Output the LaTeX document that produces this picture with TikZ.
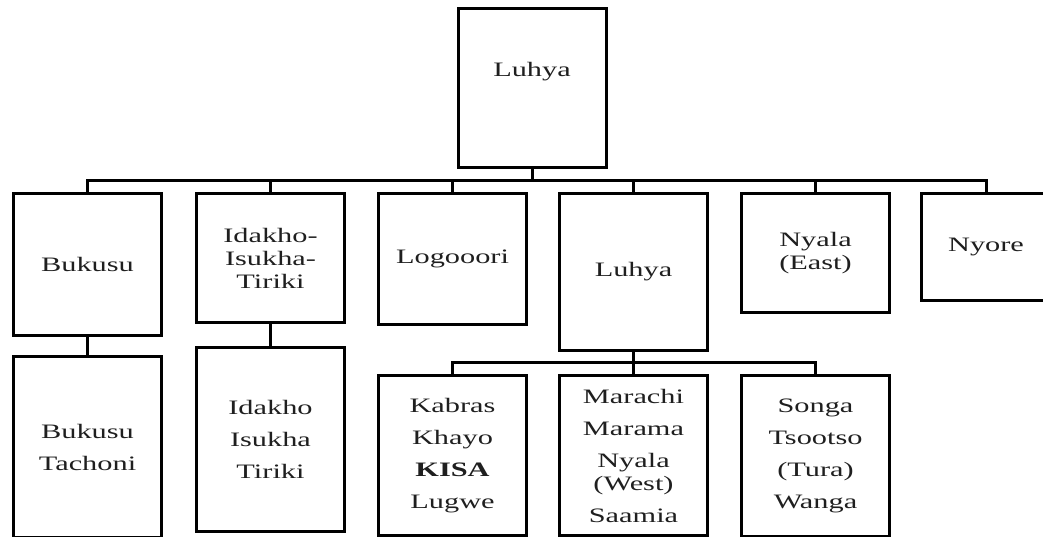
\documentclass[tikz,border=0pt]{standalone}
\usepackage{fontspec}
\setmainfont[FakeStretch=1.48]{Liberation Serif}
\begin{document}
\begin{tikzpicture}[x=1bp,y=-1bp,
  box/.style={draw=black,line width=3bp,fill=white,inner sep=0pt,minimum width=148bp,
    align=center,text=black!88,font=\fontsize{20.5bp}{23bp}\selectfont},
  link/.style={draw=black,line width=3bp,line join=miter}]
\useasboundingbox (0,0) rectangle (1043,537);
\fill[white] (0,0) rectangle (1043,537);
\clip (0,0) rectangle (1043,537);
% top
\node[box,minimum height=159bp] (top) at (532,88) {};
\node[text=black!88,font=\fontsize{20.5bp}{23bp}\selectfont] (toptext) at (532,72) {Luhya};
% row 2
\node[box,minimum height=142bp] (bukusu) at (87.5,264.5) {Bukusu};
\node[box,minimum height=129bp] (idakho) at (270.5,258) {Idakho-\\Isukha-\\Tiriki};
\node[box,minimum height=131bp] (logooori) at (452.5,259) {Logooori};
\node[box,minimum height=157bp] (luhya) at (633.5,272) {Luhya};
\node[box,minimum height=119bp] (nyala) at (815.5,253) {Nyala\\(East)};
\node[box,minimum height=107bp,minimum width=129bp] (nyore) at (986,247) {Nyore};
% row 3
\node[box,minimum height=181bp] (tachoni) at (87.5,447) {Bukusu\\[9bp]Tachoni};
\node[box,minimum height=184bp] (idakhotwo) at (270.5,439.5) {Idakho\\[9bp]Isukha\\[9bp]Tiriki};
\node[box,minimum height=160bp] (kabras) at (452.5,455.5) {Kabras\\[9bp]Khayo\\[9bp]\textbf{KISA}\\[9bp]Lugwe};
\node[box,minimum height=160bp] (marachi) at (633.5,455.5) {Marachi\\[9bp]Marama\\[9bp]Nyala\\(West)\\[9bp]Saamia};
\node[box,minimum height=161bp] (songa) at (815.5,456) {Songa\\[9bp]Tsootso\\[9bp](Tura)\\[9bp]Wanga};
% connectors
\coordinate (bar) at (0,180.5);
\foreach \c in {bukusu,idakho,logooori,luhya,nyala,nyore}
  \draw[link] (top.south) -- (top.south |- bar) -| (\c.north);
\coordinate (subbar) at (0,363);
\foreach \c in {kabras,marachi,songa}
  \draw[link] (luhya.south) -- (luhya.south |- subbar) -| (\c.north);
\draw[link] (bukusu.south) -- (tachoni.north);
\draw[link] (idakho.south) -- (idakhotwo.north);
\end{tikzpicture}
\end{document}
